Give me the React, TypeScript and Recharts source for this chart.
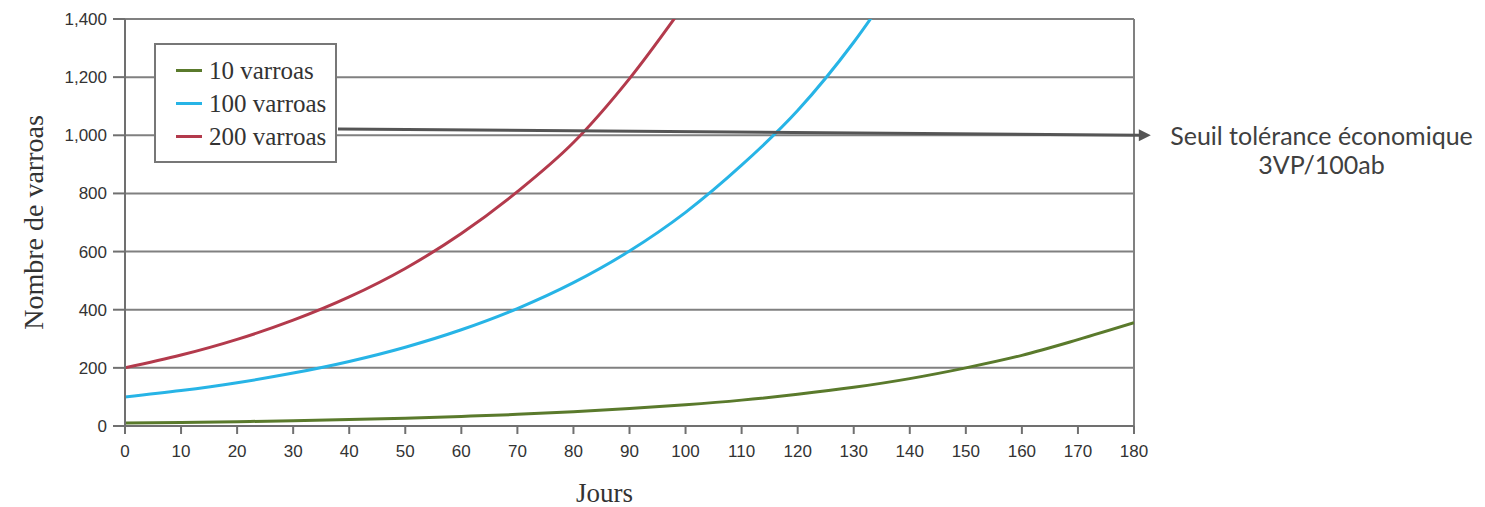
import React from 'react';
import { LineChart, Line, XAxis, YAxis, CartesianGrid, ReferenceLine } from 'recharts';

// jours / valeurs (les derniers points sortent du cadre et sont coupés)
const days10 = [0, 10, 20, 30, 40, 50, 60, 70, 80, 90, 100, 110, 120, 130, 140, 150, 160, 170, 180];
const values10 = [10, 12, 15, 18, 22, 27, 33, 40, 49, 60, 73, 89, 109, 133, 163, 200, 243, 297, 355];

const days100 = [0, 10, 20, 30, 40, 50, 60, 70, 80, 90, 100, 110, 120, 130, 140];
const values100 = [100, 122, 149, 182, 222, 271, 331, 404, 493, 602, 735, 897, 1085, 1320, 1600];

const days200 = [0, 10, 20, 30, 40, 50, 60, 70, 80, 90, 100];
const values200 = [200, 244, 298, 364, 444, 542, 662, 806, 975, 1195, 1455];

const xTicks = [0, 10, 20, 30, 40, 50, 60, 70, 80, 90, 100, 110, 120, 130, 140, 150, 160, 170, 180];
const yTicks = [0, 200, 400, 600, 800, 1000, 1200, 1400];

const seriesInfo = [
  { name: '10 varroas', color: '#5a7a2c' },
  { name: '100 varroas', color: '#27b4e6' },
  { name: '200 varroas', color: '#b33a4c' },
];

const toRows = (days: number[], vals: number[]) => days.map((d, i) => ({ day: d, value: vals[i] }));

const data10 = toRows(days10, values10);
const data100 = toRows(days100, values100);
const data200 = toRows(days200, values200);

const fmt = (v: number) => v.toLocaleString('en-US');

const tickStyle = { fill: '#333', fontSize: 17, fontFamily: '"Liberation Sans", Arial, sans-serif' };

const LegendBox = () => (
  <div
    style={{
      position: 'absolute',
      left: 154,
      top: 43,
      boxSizing: 'border-box',
      width: 183,
      height: 120,
      border: '2px solid #777',
      background: '#fff',
      padding: '9px 0 0 20px',
      fontFamily: '"Liberation Serif", serif',
      fontSize: 25,
      color: '#333',
    }}
  >
    {seriesInfo.map(s => (
      <div key={s.name} style={{ display: 'flex', alignItems: 'center', height: 33, whiteSpace: 'nowrap' }}>
        <span style={{ display: 'inline-block', width: 26, height: 3, background: s.color, marginRight: 7 }} />
        {s.name}
      </div>
    ))}
  </div>
);

const ArrowShape = (props: any) => {
  const { x1, y1, x2, y2 } = props;
  return (
    <g>
      <line x1={x1} y1={y1} x2={x2 - 10} y2={y2} stroke="#555" strokeWidth={3} />
      <polygon points={`${x2},${y2} ${x2 - 12},${y2 - 6} ${x2 - 12},${y2 + 6}`} fill="#555" />
    </g>
  );
};

const App: React.FC = () => {
  return (
    <div style={{ position: 'absolute', left: 0, top: 0, width: 1485, height: 507, background: '#fff' }}>
      <LineChart width={1485} height={507} margin={{ top: 19, right: 351, bottom: 51, left: 0 }}>
        <CartesianGrid vertical={false} stroke="#808080" strokeWidth={2} />
        <XAxis
          dataKey="day"
          type="number"
          domain={[0, 180]}
          ticks={xTicks}
          interval={0}
          stroke="#707070"
          strokeWidth={2}
          tickSize={8}
          tick={tickStyle}
          tickMargin={11}
          allowDataOverflow
          label={{
            content: (p: any) => (
              <text
                x={p.viewBox.x + p.viewBox.width / 2 - 25}
                y={502}
                textAnchor="middle"
                fontFamily='"Liberation Serif", serif'
                fontSize={27}
                fill="#333"
              >
                Jours
              </text>
            ),
          }}
        />
        <YAxis
          type="number"
          domain={[0, 1400]}
          ticks={yTicks}
          width={125}
          stroke="#707070"
          strokeWidth={2}
          tickSize={12}
          tickFormatter={fmt}
          tick={tickStyle}
          tickMargin={6}
          allowDataOverflow
          label={{
            content: (p: any) => {
              const cx = 33;
              const cy = p.viewBox.y + p.viewBox.height / 2;
              return (
                <text
                  x={cx}
                  y={cy}
                  transform={`rotate(-90 ${cx} ${cy})`}
                  textAnchor="middle"
                  dominantBaseline="central"
                  fontFamily='"Liberation Serif", serif'
                  fontSize={28}
                  fill="#333"
                >
                  Nombre de varroas
                </text>
              );
            },
          }}
        />
        <ReferenceLine x={180} stroke="#808080" strokeWidth={2} />
        <Line data={data10} dataKey="value" name="10 varroas" type="monotone" stroke="#5a7a2c" strokeWidth={3} dot={false} isAnimationActive={false} />
        <Line data={data100} dataKey="value" name="100 varroas" type="monotone" stroke="#27b4e6" strokeWidth={3} dot={false} isAnimationActive={false} />
        <Line data={data200} dataKey="value" name="200 varroas" type="monotone" stroke="#b33a4c" strokeWidth={3} dot={false} isAnimationActive={false} />
        <ReferenceLine
          segment={[{ x: 38, y: 1022 }, { x: 183, y: 1000 }]}
          ifOverflow="visible"
          shape={ArrowShape}
        />
      </LineChart>
      <LegendBox />
      <div
        style={{
          position: 'absolute',
          left: 1158,
          top: 121,
          width: 327,
          textAlign: 'center',
          fontFamily: 'Lato, sans-serif',
          fontSize: 25,
          lineHeight: '29px',
          color: '#404040',
        }}
      >
        Seuil tolérance économique
        <br />
        3VP/100ab
      </div>
    </div>
  );
};

export default App;
